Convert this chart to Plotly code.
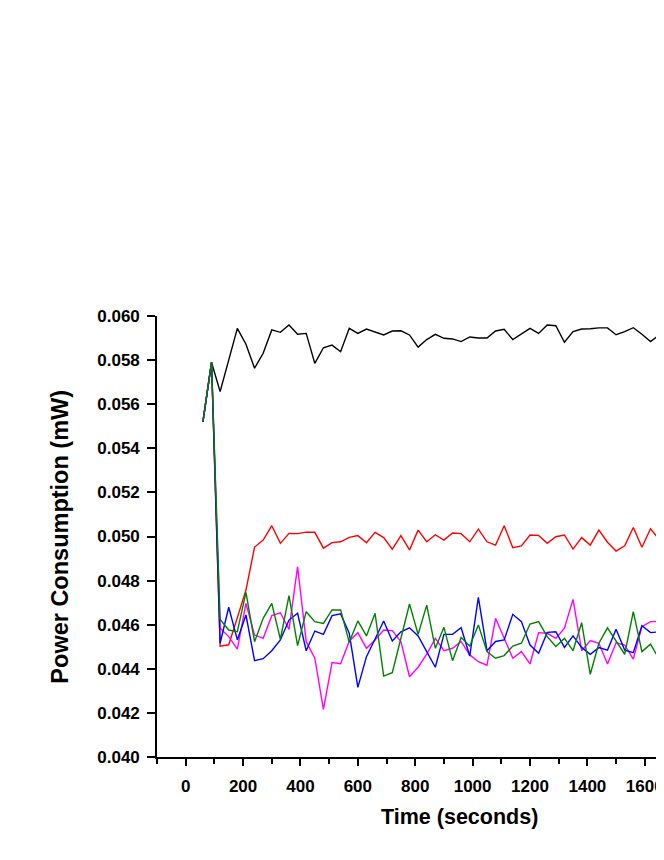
import plotly.graph_objects as go

time_s = [60, 90, 120, 150, 180, 210, 240, 270, 300, 330, 360, 390, 420, 450, 480,
          510, 540, 570, 600, 630, 660, 690, 720, 750, 780, 810, 840, 870, 900, 930,
          960, 990, 1020, 1050, 1080, 1110, 1140, 1170, 1200, 1230, 1260, 1290, 1320,
          1350, 1380, 1410, 1440, 1470, 1500, 1530, 1560, 1590, 1620, 1650, 1680]

black_vals = [0.0552, 0.0579, 0.05657, 0.0580, 0.05944, 0.05872, 0.05763, 0.05831, 0.05937,
              0.05926, 0.05959, 0.05917, 0.05921, 0.05785, 0.05856, 0.05868, 0.05838, 0.05944,
              0.05921, 0.05941, 0.05929, 0.05914, 0.05932, 0.05933, 0.05914, 0.05859, 0.05893,
              0.05917, 0.05899, 0.05896, 0.05884, 0.05905, 0.05900, 0.05900, 0.05932, 0.05940,
              0.05893, 0.05920, 0.05944, 0.05921, 0.05959, 0.05956, 0.05881, 0.05929, 0.05941,
              0.05942, 0.05946, 0.05946, 0.05915, 0.05929, 0.05947, 0.05917, 0.05884, 0.05914,
              0.05914]

red_vals = [0.0552, 0.0579, 0.04503, 0.04509, 0.04632, 0.04757, 0.04952, 0.04984, 0.05049,
            0.04969, 0.05014, 0.05013, 0.05020, 0.05019, 0.04947, 0.04972, 0.04976, 0.04996,
            0.05004, 0.04972, 0.05019, 0.04995, 0.04942, 0.05004, 0.04939, 0.05029, 0.04976,
            0.05008, 0.04984, 0.05016, 0.05013, 0.04976, 0.05033, 0.04976, 0.04961, 0.05049,
            0.04949, 0.04957, 0.05007, 0.05005, 0.04969, 0.04999, 0.05007, 0.04943, 0.04995,
            0.04961, 0.05029, 0.04974, 0.04934, 0.04958, 0.05041, 0.04951, 0.05035, 0.04987,
            0.05040]

blue_vals = [0.0552, 0.0579, 0.04516, 0.04679, 0.04531, 0.04644, 0.04437, 0.04446, 0.04482,
             0.04531, 0.04621, 0.04652, 0.04482, 0.04571, 0.04556, 0.04641, 0.04649, 0.04561,
             0.04316, 0.04455, 0.04535, 0.04617, 0.04526, 0.04568, 0.04586, 0.04549, 0.04478,
             0.04407, 0.04556, 0.04556, 0.04586, 0.04458, 0.04724, 0.04482, 0.04524, 0.04531,
             0.04647, 0.04614, 0.04508, 0.04470, 0.04565, 0.04568, 0.04497, 0.04549, 0.04497,
             0.04466, 0.04496, 0.04485, 0.04579, 0.04485, 0.04473, 0.04595, 0.04564, 0.04568,
             0.04540]

magenta_vals = [0.0552, 0.0579, 0.04584, 0.04546, 0.04489, 0.04697, 0.04553, 0.04538, 0.04641,
                0.04654, 0.04579, 0.04863, 0.04523, 0.04448, 0.04216, 0.04428, 0.04423, 0.04525,
                0.04564, 0.04493, 0.04531, 0.04576, 0.04573, 0.04523, 0.04364, 0.04407, 0.04466,
                0.04538, 0.04482, 0.04493, 0.04524, 0.04463, 0.04432, 0.04416, 0.04629, 0.04538,
                0.04448, 0.04478, 0.04422, 0.04564, 0.04561, 0.04538, 0.04584, 0.04715, 0.04482,
                0.04528, 0.04516, 0.04422, 0.04518, 0.04508, 0.04444, 0.04591, 0.04614, 0.04614,
                0.04550]

green_vals = [0.0552, 0.0579, 0.04624, 0.04576, 0.04568, 0.04747, 0.04523, 0.04629, 0.04697,
              0.04534, 0.04732, 0.04505, 0.04659, 0.04614, 0.04606, 0.04667, 0.04667, 0.04520,
              0.04617, 0.04549, 0.04652, 0.04367, 0.04382, 0.04538, 0.04694, 0.04556, 0.04689,
              0.04493, 0.04588, 0.04437, 0.04542, 0.04503, 0.04599, 0.04478, 0.04448, 0.04460,
              0.04503, 0.04516, 0.04603, 0.04614, 0.04546, 0.04501, 0.04538, 0.04482, 0.04609,
              0.04375, 0.04516, 0.04586, 0.04523, 0.04466, 0.04659, 0.04478, 0.04512, 0.04444,
              0.04420]

y_ticks = [0.040, 0.042, 0.044, 0.046, 0.048, 0.050, 0.052, 0.054, 0.056, 0.058, 0.060]
y_tick_labels = ["0.040", "0.042", "0.044", "0.046", "0.048", "0.050", "0.052", "0.054",
                 "0.056", "0.058", "0.060"]
x_ticks = [0, 200, 400, 600, 800, 1000, 1200, 1400, 1600, 1800]
x_tick_labels = ["0", "200", "400", "600", "800", "1000", "1200", "1400", "1600", "1800"]
x_minor_ticks = [-100, 100, 300, 500, 700, 900, 1100, 1300, 1500, 1700]

x_title = "Time (seconds)"
y_title = "Power Consumption (mW)"

series = [
    (black_vals, "#000000"),
    (red_vals, "#FF0000"),
    (magenta_vals, "#FF00FF"),
    (blue_vals, "#0000FF"),
    (green_vals, "#008000"),
]

FONT = "Liberation Sans, Arial, sans-serif"

fig = go.Figure()
for vals, col in series:
    fig.add_trace(go.Scatter(x=time_s, y=vals, mode="lines",
                             line=dict(color=col, width=1.4), showlegend=False))

fig.update_layout(
    width=656, height=844,
    margin=dict(l=149, r=0, t=308, b=95),
    paper_bgcolor="white", plot_bgcolor="white",
    font=dict(family=FONT, color="black"),
    xaxis=dict(range=[-100, 1667], tickvals=x_ticks, ticktext=x_tick_labels,
               showline=True, linecolor="black", linewidth=1.6, showgrid=False,
               zeroline=False, ticks="outside", ticklen=7, tickwidth=1.6,
               tickcolor="black", ticklabelstandoff=6,
               tickfont=dict(family=FONT, size=17, weight="bold", color="black"),
               minor=dict(ticks="outside", tickvals=x_minor_ticks,
                          ticklen=5, tickwidth=1.6, tickcolor="black", showgrid=False)),
    yaxis=dict(range=[0.040, 0.060], tickvals=y_ticks, ticktext=y_tick_labels,
               showline=True, linecolor="black", linewidth=1.6, showgrid=False,
               zeroline=False, ticks="outside", ticklen=8, tickwidth=1.6,
               tickcolor="black", ticklabelstandoff=4,
               tickfont=dict(family=FONT, size=17, weight="bold", color="black")),
    annotations=[
        dict(text=x_title, xref="paper", yref="paper", x=0.596, y=-0.135,
             xanchor="center", yanchor="middle", showarrow=False,
             font=dict(family=FONT, size=21.5, weight="bold", color="black")),
        dict(text=y_title, xref="paper", yref="paper", x=-0.193, y=0.5,
             xanchor="center", yanchor="middle", showarrow=False, textangle=-90,
             font=dict(family=FONT, size=23.5, weight="bold", color="black")),
    ],
)

fig.write_html("out.html")
